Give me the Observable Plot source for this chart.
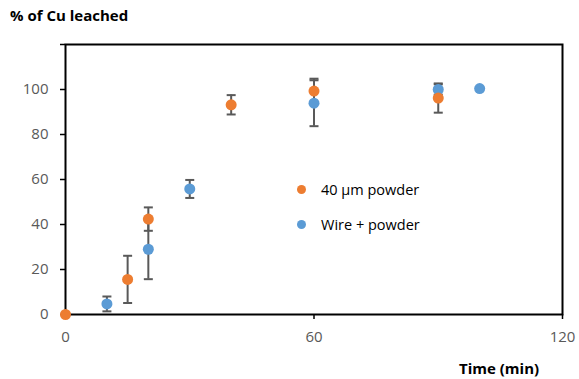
<!DOCTYPE html>
<html>
<head>
<meta charset="utf-8">
<script src="https://cdn.jsdelivr.net/npm/d3@7"></script>
<script src="https://cdn.jsdelivr.net/npm/@observablehq/plot@0.6"></script>
<style>
  html, body { margin: 0; padding: 0; background: #fff; }
  #wrap { position: relative; width: 579px; height: 379px; font-family: "Open Sans", sans-serif; }
  .title { position: absolute; left: 10px; top: 5px; font-weight: bold; font-size: 15px; color: #000; white-space: nowrap; }
  .xlabel { position: absolute; left: 459px; top: 358px; font-weight: bold; font-size: 15px; color: #000; white-space: nowrap; }
  .legend { position: absolute; left: 297px; top: 178px; font-size: 14.5px; color: #000; }
  .legend .row { display: flex; align-items: center; height: 23px; margin-bottom: 12px; }
  .legend .sw { width: 9px; height: 9px; border-radius: 50%; margin-right: 15px; }
</style>
</head>
<body>
<div id="wrap">
  <div id="chart"></div>
  <div class="title">% of Cu leached</div>
  <div class="xlabel">Time (min)</div>
  <div class="legend" id="legend"></div>
</div>
<script>
// Series: 40 µm powder
const timePowder = [0, 15, 20, 40, 60, 90];
const pctPowder  = [0, 15.6, 42.4, 93.2, 99.3, 96.2];
const errPowder  = [0, 10.5, 5.2, 4.3, 5.5, 6.5];
// Series: Wire + powder
const timeWire = [10, 20, 30, 60, 90, 100];
const pctWire  = [4.7, 29.0, 55.8, 93.9, 100.0, 100.4];
const errWire  = [3.3, 13.3, 4.0, 10.2, 2.3, 0];

const seriesNames = ["40 µm powder", "Wire + powder"];
const seriesColors = ["#ED7D31", "#5B9BD5"];

const xTicks = [0, 60, 120];
const yTicks = [0, 20, 40, 60, 80, 100, 120];
const yTickLabels = ["0", "20", "40", "60", "80", "100", ""];

const powder = timePowder.map((t, i) => ({t, v: pctPowder[i], e: errPowder[i], s: seriesNames[0]}));
const wire = timeWire.map((t, i) => ({t, v: pctWire[i], e: errWire[i], s: seriesNames[1]}));
const withErr = [...wire, ...powder].filter(d => d.e > 0);
const caps = withErr.flatMap(d => [{t: d.t, y: d.v - d.e}, {t: d.t, y: d.v + d.e}]);

const capSymbol = {draw(ctx) { ctx.moveTo(-4.5, 0); ctx.lineTo(4.5, 0); }};

const chart = Plot.plot({
  width: 579,
  height: 379,
  marginLeft: 65,
  marginRight: 17,
  marginTop: 44,
  marginBottom: 65,
  style: {fontFamily: "Open Sans, sans-serif", fontSize: "15px", background: "#fff"},
  x: {domain: [0, 120]},
  y: {domain: [0, 120]},
  marks: [
    Plot.axisY({ticks: yTicks, tickFormat: (d) => yTickLabels[yTicks.indexOf(d)], tickSize: 5, tickPadding: 12,
      stroke: "#000", strokeWidth: 1.5, fill: "#595959", label: null}),
    Plot.axisX({ticks: xTicks, tickSize: 5, tickPadding: 12, stroke: "#000", strokeWidth: 1.5, fill: "#595959", label: null}),
    Plot.frame({stroke: "#000", strokeWidth: 2}),
    Plot.ruleX(withErr, {x: "t", y1: d => d.v - d.e, y2: d => d.v + d.e, stroke: "#595959", strokeWidth: 2}),
    Plot.dot(caps, {x: "t", y: "y", symbol: capSymbol, stroke: "#595959", strokeWidth: 2, fill: "none"}),
    Plot.dot(wire, {x: "t", y: "v", r: 5.5, fill: seriesColors[1], stroke: "none"}),
    Plot.dot(powder, {x: "t", y: "v", r: 5.5, fill: seriesColors[0], stroke: "none"})
  ]
});
document.getElementById("chart").appendChild(chart);

const legend = document.getElementById("legend");
seriesNames.forEach((n, i) => {
  const row = document.createElement("div");
  row.className = "row";
  const sw = document.createElement("div");
  sw.className = "sw";
  sw.style.background = seriesColors[i];
  const tx = document.createElement("span");
  tx.textContent = n;
  row.appendChild(sw);
  row.appendChild(tx);
  legend.appendChild(row);
});
</script>
</body>
</html>
